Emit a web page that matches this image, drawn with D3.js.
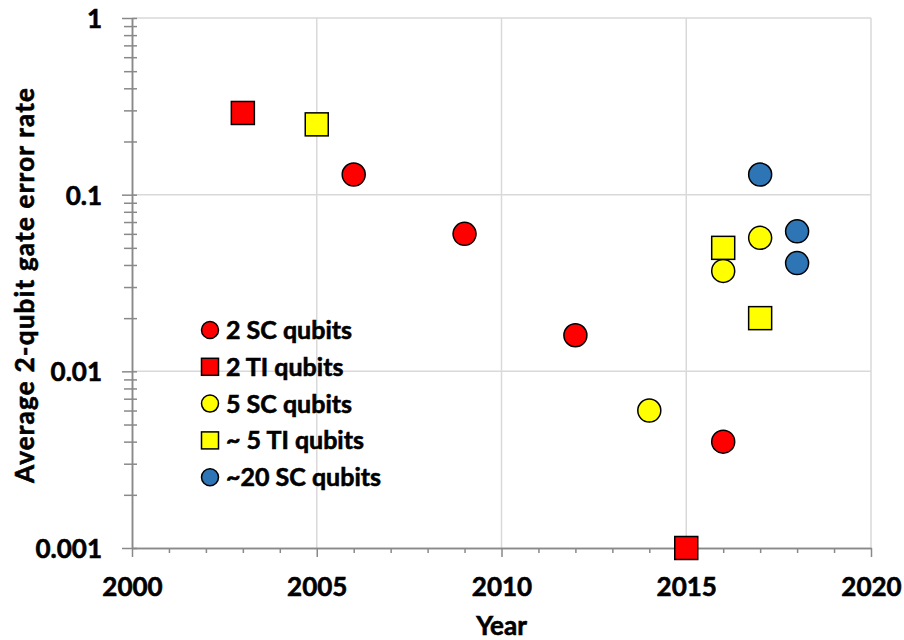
<!DOCTYPE html>
<html>
<head>
<meta charset="utf-8">
<script src="https://cdn.jsdelivr.net/npm/d3@7"></script>
<style>
  html, body { margin: 0; padding: 0; background: #fff; }
  svg { display: block; font-family: Lato, "Open Sans", sans-serif; font-weight: bold; }
  svg text { stroke: #000; stroke-width: 0.6px; }
</style>
</head>
<body>
<svg id="chart" width="904" height="640"></svg>
<script>
// ---- data ----
const seriesNames = ["2 SC qubits", "2 TI qubits", "5 SC qubits", "~ 5 TI qubits", "~20 SC qubits"];
const seriesShapes = ["circle", "square", "circle", "square", "circle"];
const seriesColors = ["#ff0000", "#ff0000", "#ffff00", "#ffff00", "#2e75b6"];

const sc2Years = [2006, 2009, 2012, 2016];
const sc2Values = [0.13, 0.06, 0.016, 0.004];

const ti2Years = [2003, 2015];
const ti2Values = [0.29, 0.001];

const sc5Years = [2014, 2016, 2017];
const sc5Values = [0.006, 0.037, 0.057];

const ti5Years = [2005, 2016, 2017];
const ti5Values = [0.25, 0.05, 0.02];

const sc20Years = [2017, 2018, 2018];
const sc20Values = [0.13, 0.062, 0.041];

const xTickLabels = [2000, 2005, 2010, 2015, 2020];
const yTickLabels = [0.001, 0.01, 0.1, 1];
const yTickText = ["0.001", "0.01", "0.1", "1"];

const xTitle = "Year";
const yTitle = "Average 2-qubit gate error rate";

// ---- layout ----
const svg = d3.select("#chart");
const pLeft = 132, pRight = 871, pTop = 18, pBottom = 548;

const x = d3.scaleLinear().domain([2000, 2020]).range([pLeft, pRight]);
const y = d3.scaleLog().domain([0.001, 1]).range([pBottom, pTop]);

const axisColor = "#898989";
const gridColor = "#d9d9d9";

// gridlines
const grid = svg.append("g");
grid.selectAll("line.v").data(xTickLabels.slice(1)).join("line")
  .attr("class", "v")
  .attr("x1", d => x(d)).attr("x2", d => x(d))
  .attr("y1", pTop).attr("y2", pBottom)
  .attr("stroke", gridColor).attr("stroke-width", 1.5);
grid.selectAll("line.h").data(yTickLabels.slice(1)).join("line")
  .attr("class", "h")
  .attr("x1", pLeft).attr("x2", pRight)
  .attr("y1", d => y(d)).attr("y2", d => y(d))
  .attr("stroke", gridColor).attr("stroke-width", 1.5);

// x axis: minor ticks
const minorYears = d3.range(2000, 2021).filter(v => v % 5 !== 0);
const xMinor = svg.append("g").attr("transform", `translate(0,${pBottom})`)
  .call(d3.axisBottom(x).tickValues(minorYears).tickSize(5).tickSizeOuter(0).tickFormat(""));
const xMajor = svg.append("g").attr("transform", `translate(0,${pBottom})`)
  .call(d3.axisBottom(x).tickValues(xTickLabels).tickSize(9).tickSizeOuter(0).tickFormat(d3.format("d")));
[xMinor, xMajor].forEach(g => {
  g.select(".domain").attr("stroke", axisColor).attr("stroke-width", 1.5);
  g.selectAll(".tick line").attr("stroke", axisColor).attr("stroke-width", 1.5);
});
xMajor.selectAll(".tick text")
  .attr("y", 48).attr("dy", 0)
  .attr("fill", "#000").style("font-size", "26px").style("font-weight", "bold")
  .style("font-family", "Lato, sans-serif");

// y axis
const yMinorVals = [];
[0.001, 0.01, 0.1].forEach(d => { for (let k = 2; k <= 9; k++) yMinorVals.push(d * k); });
const yMinor = svg.append("g").attr("transform", `translate(${pLeft},0)`)
  .call(d3.axisLeft(y).tickValues(yMinorVals).tickSize(8).tickSizeOuter(0).tickFormat(""));
const yMajor = svg.append("g").attr("transform", `translate(${pLeft},0)`)
  .call(d3.axisLeft(y).tickValues(yTickLabels).tickSize(10).tickSizeOuter(0)
    .tickFormat((d, i) => yTickText[i]));
[yMinor, yMajor].forEach(g => {
  g.select(".domain").attr("stroke", axisColor).attr("stroke-width", 1.5);
  g.selectAll(".tick line").attr("stroke", axisColor).attr("stroke-width", 1.5).attr("x1", 5);
});
yMajor.selectAll(".tick text")
  .attr("x", -30).attr("dy", "0.36em")
  .attr("fill", "#000").style("font-size", "26px").style("font-weight", "bold")
  .style("font-family", "Lato, sans-serif");

// axis titles
svg.append("text")
  .attr("x", (pLeft + pRight) / 2).attr("y", 635)
  .attr("text-anchor", "middle").attr("font-size", 26).attr("fill", "#000")
  .text(xTitle);
svg.append("text")
  .attr("transform", `translate(34,${(88 + 483) / 2}) rotate(-90)`)
  .attr("text-anchor", "middle").attr("font-size", 26).attr("fill", "#000")
  .attr("textLength", 395).attr("lengthAdjust", "spacing")
  .text(yTitle);

// points
const allSeries = [
  { years: sc2Years, values: sc2Values },
  { years: ti2Years, values: ti2Values },
  { years: sc5Years, values: sc5Values },
  { years: ti5Years, values: ti5Values },
  { years: sc20Years, values: sc20Values }
];

function drawMarker(g, shape, color, cx, cy, size) {
  if (shape === "circle") {
    g.append("circle").attr("cx", cx).attr("cy", cy).attr("r", size / 2)
      .attr("fill", color).attr("stroke", "#000").attr("stroke-width", 1.5);
  } else {
    g.append("rect").attr("x", cx - size / 2).attr("y", cy - size / 2)
      .attr("width", size).attr("height", size)
      .attr("fill", color).attr("stroke", "#000").attr("stroke-width", 1.5);
  }
}

const pts = svg.append("g");
allSeries.forEach((s, i) => {
  s.years.forEach((yr, j) => {
    drawMarker(pts, seriesShapes[i], seriesColors[i], x(yr), y(s.values[j]), 23);
  });
});

// legend
const legend = svg.append("g");
seriesNames.forEach((name, i) => {
  const cy = 330 + i * 36.8;
  drawMarker(legend, seriesShapes[i], seriesColors[i], 210, cy, 17);
  legend.append("text").attr("x", 226).attr("y", cy).attr("dy", "0.36em")
    .attr("font-size", 25).attr("fill", "#000").text(name);
});
</script>
</body>
</html>
